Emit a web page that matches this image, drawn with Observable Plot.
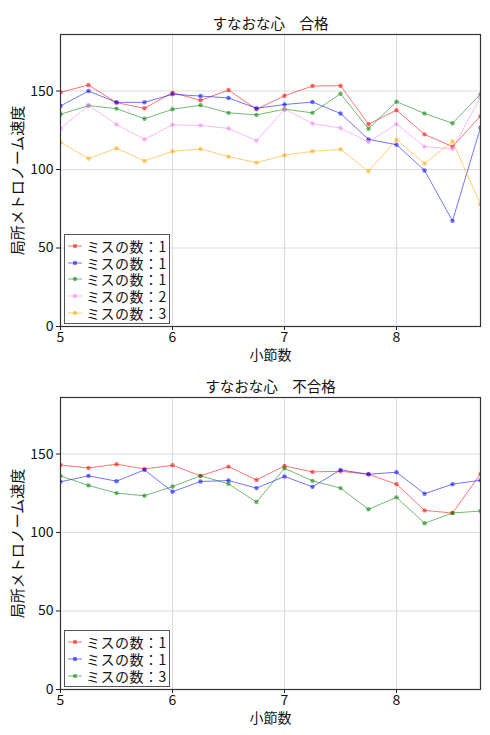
<!DOCTYPE html>
<html>
<head>
<meta charset="utf-8">
<script src="https://cdn.jsdelivr.net/npm/d3@7"></script>
<script src="https://cdn.jsdelivr.net/npm/@observablehq/plot@0.6"></script>
<style>
  body { margin: 0; background: #fff; font-family: "Noto Sans CJK JP", "Noto Sans", sans-serif; }
  #root { position: relative; width: 490px; height: 735px; }
  .panel { position: absolute; left: 0; width: 490px; }
  .legend { position: absolute; left: 64px; width: 104px; border: 1px solid #555; background: #fff;
            font-size: 14px; color: #111; padding: 3px 0 2px 0; box-sizing: content-box; }
  .legend .row { height: 16.6px; line-height: 16.6px; display: flex; align-items: center; white-space: nowrap; letter-spacing: 0.5px; overflow: visible; }
  .legend .row span { display: inline-block; height: 16px; line-height: 16px; overflow: visible; }
  .legend svg { margin: 0 4px 0 3px; }
</style>
</head>
<body>
<div id="root"></div>
<script>
// ---- data ----
const measures = [5, 5.25, 5.5, 5.75, 6, 6.25, 6.5, 6.75, 7, 7.25, 7.5, 7.75, 8, 8.25, 8.5, 8.75];
const xTicks = [5, 6, 7, 8];
const yTicks = [0, 50, 100, 150];

const titlePass = "すなおな心　合格";
const titleFail = "すなおな心　不合格";
const xLabel = "小節数";
const yLabel = "局所メトロノーム速度";

const passLabels = ["ミスの数：1", "ミスの数：1", "ミスの数：1", "ミスの数：2", "ミスの数：3"];
const passColors = ["#ff0000", "#0000ff", "#008000", "#ee82ee", "#ffa500"];
const passRed    = [149.2,153.8,142.6,139.0,149.0,144.1,150.6,138.4,147.0,153.2,153.4,128.9,137.8,122.4,114.6,134.0];
const passBlue   = [140.5,150.0,142.8,142.8,147.9,146.8,145.6,139.0,141.4,143.0,135.7,119.2,115.8,99.4,67.3,126.8];
const passGreen  = [135.2,140.7,138.8,132.3,138.4,140.9,136.1,134.8,138.4,136.1,148.3,126.0,143.2,135.7,129.5,147.9];
const passPink   = [126.0,140.9,128.7,119.2,128.5,128.1,126.2,118.4,138.4,129.3,126.4,117.5,128.9,114.6,113.1,146.0];
const passOrange = [117.3,107.0,113.5,105.5,111.6,113.1,108.2,104.4,109.1,111.6,112.9,98.9,119.0,103.8,117.9,77.8];

const failLabels = ["ミスの数：1", "ミスの数：1", "ミスの数：3"];
const failColors = ["#ff0000", "#0000ff", "#008000"];
const failRed   = [143.0,141.1,143.5,140.5,142.8,136.1,142.0,133.5,142.4,138.6,139.0,137.1,130.8,114.1,112.4,137.3];
const failBlue  = [132.3,136.1,132.7,139.9,126.0,132.5,133.1,128.3,135.7,129.1,139.9,137.1,138.4,124.7,130.8,133.3];
const failGreen = [136.1,130.0,125.1,123.4,129.3,136.1,131.0,119.4,140.9,132.9,128.3,114.8,122.4,105.9,112.4,113.7];

const panels = [
  { title: titlePass, labels: passLabels, colors: passColors,
    series: [passRed, passBlue, passGreen, passPink, passOrange], top: 0 },
  { title: titleFail, labels: failLabels, colors: failColors,
    series: [failRed, failBlue, failGreen], top: 363 }
];

const FONT = '"Noto Sans CJK JP", "Noto Sans", sans-serif';
const root = document.getElementById("root");

for (const p of panels) {
  const marks = [
    Plot.gridX(xTicks, { stroke: "#dcdcdc", strokeOpacity: 1 }),
    Plot.gridY(yTicks, { stroke: "#dcdcdc", strokeOpacity: 1 }),
  ];
  p.series.forEach((vals, k) => {
    const rows = measures.map((m, i) => ({ x: m, y: vals[i] }));
    marks.push(Plot.line(rows, { x: "x", y: "y", stroke: p.colors[k], strokeOpacity: 0.55, strokeWidth: 1, clip: true }));
    marks.push(Plot.dot(rows, { x: "x", y: "y", fill: p.colors[k], fillOpacity: 0.55, r: 2.2, clip: true }));
  });
  marks.push(
    Plot.axisX(xTicks, { tickSize: 4, tickPadding: 2, fontSize: 14, label: null, stroke: "#222" }),
    Plot.axisY(yTicks, { tickSize: 4, tickPadding: 3, fontSize: 14, label: null, stroke: "#222" }),
    Plot.frame({ stroke: "#333", strokeWidth: 1.2 }),
    Plot.text([p.title], { frameAnchor: "top", dy: -16, fontSize: 14.5, fill: "#111" }),
    Plot.text([xLabel], { frameAnchor: "bottom", dy: 33, fontSize: 14, fill: "#111" }),
    Plot.text([yLabel], { frameAnchor: "left", textAnchor: "middle", dx: -42, rotate: -90, fontSize: 15, fill: "#111" })
  );
  const chart = Plot.plot({
    width: 490, height: 365,
    marginLeft: 60, marginRight: 10, marginTop: 34, marginBottom: 39,
    style: { fontFamily: FONT, fontSize: "14px", color: "#111", background: "#fff" },
    x: { domain: [5, 8.75] },
    y: { domain: [0, 186] },
    marks
  });
  const wrap = document.createElement("div");
  wrap.className = "panel";
  wrap.style.top = p.top + "px";
  wrap.appendChild(chart);
  root.appendChild(wrap);

  // legend
  const leg = document.createElement("div");
  leg.className = "legend";
  const legHeight = p.labels.length * 16.6 + 5;
  leg.style.top = (p.top + 326 - 4 - legHeight) + "px";
  p.labels.forEach((lab, k) => {
    const row = document.createElement("div");
    row.className = "row";
    row.innerHTML = `<svg width="14" height="8"><line x1="0" x2="14" y1="4" y2="4" stroke="${p.colors[k]}" stroke-opacity="0.55"/><circle cx="7" cy="4" r="2.2" fill="${p.colors[k]}" fill-opacity="0.55"/></svg><span>${lab}</span>`;
    leg.appendChild(row);
  });
  root.appendChild(leg);
}
</script>
</body>
</html>
